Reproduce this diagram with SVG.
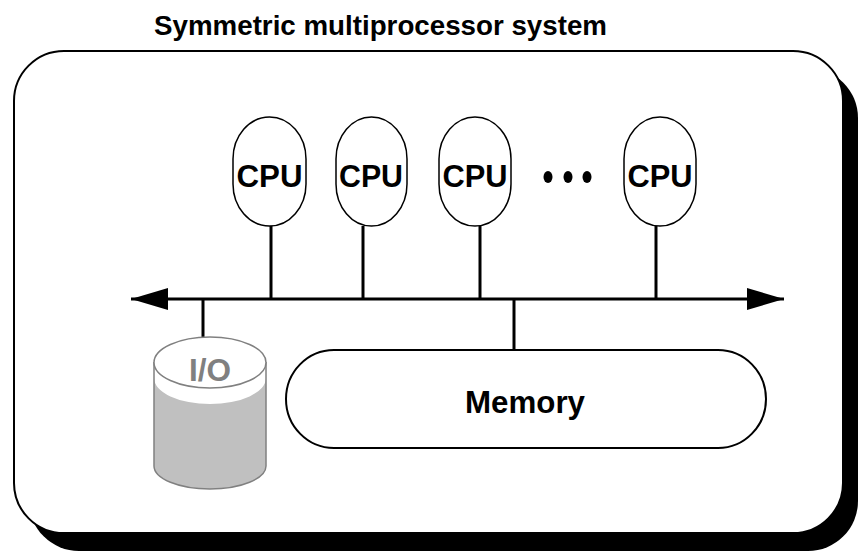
<svg xmlns="http://www.w3.org/2000/svg" width="859" height="553" viewBox="0 0 859 553">
<style>
text{font-family:"Liberation Sans",Arial,sans-serif;font-weight:bold;text-anchor:middle}
.title{font-size:28px;fill:#000}
.lbl{font-size:31.5px;fill:#000}
.cpu{fill:#fff;stroke:#000;stroke-width:1.5}
.wire{stroke:#000;stroke-width:3;fill:none}
</style>
<defs>
<marker id="ah" viewBox="0 0 37 22" refX="37" refY="11" markerWidth="37" markerHeight="22" markerUnits="userSpaceOnUse" orient="auto-start-reverse">
<path d="M0,0 L37,11 L0,22 Z" fill="#000"/>
</marker>
</defs>
<rect width="859" height="553" fill="#fff"/>
<text class="title" x="380.5" y="35" textLength="453" lengthAdjust="spacingAndGlyphs">Symmetric multiprocessor system</text>
<g id="frame">
<rect x="29" y="68" width="829" height="483" rx="50" ry="50" fill="#000"/>
<rect x="14" y="51" width="829" height="482" rx="50" ry="50" fill="#fff" stroke="#000" stroke-width="2"/>
</g>
<g id="connectors">
<line class="wire" x1="131" y1="299" x2="784" y2="299" marker-start="url(#ah)" marker-end="url(#ah)"/>
<line class="wire" x1="271" y1="226" x2="271" y2="299"/>
<line class="wire" x1="363" y1="226" x2="363" y2="299"/>
<line class="wire" x1="480" y1="226" x2="480" y2="299"/>
<line class="wire" x1="656" y1="226" x2="656" y2="299"/>
<line class="wire" x1="203" y1="299" x2="203" y2="337"/>
<line class="wire" x1="514" y1="299" x2="514" y2="350"/>
</g>
<g id="cpu1">
<rect class="cpu" x="233" y="117" width="73" height="109" rx="36.5" ry="42"/>
<text class="lbl" x="269.5" y="186.5" textLength="66" lengthAdjust="spacingAndGlyphs">CPU</text>
</g>
<g id="cpu2">
<rect class="cpu" x="336" y="117" width="71" height="109" rx="35.5" ry="42"/>
<text class="lbl" x="371" y="186.5" textLength="64" lengthAdjust="spacingAndGlyphs">CPU</text>
</g>
<g id="cpu3">
<rect class="cpu" x="439" y="117" width="72" height="109" rx="36" ry="42"/>
<text class="lbl" x="475" y="186.5" textLength="65" lengthAdjust="spacingAndGlyphs">CPU</text>
</g>
<g id="dots">
<ellipse cx="548" cy="177" rx="4.5" ry="6" fill="#000"/>
<ellipse cx="568" cy="177" rx="4.5" ry="6" fill="#000"/>
<ellipse cx="587" cy="177" rx="4.5" ry="6" fill="#000"/>
</g>
<g id="cpu4">
<rect class="cpu" x="624" y="117" width="72" height="109" rx="36" ry="42"/>
<text class="lbl" x="660" y="186.5" textLength="65" lengthAdjust="spacingAndGlyphs">CPU</text>
</g>
<g id="io">
<path d="M154,362 L154,466 A56,23 0 0 0 266,466 L266,362 Z" fill="#fff"/>
<path d="M154,378 A56,26 0 0 0 266,378 L266,466 A56,23 0 0 1 154,466 Z" fill="#c0c0c0"/>
<path d="M154,362 L154,466 A56,23 0 0 0 266,466 L266,362" fill="none" stroke="#808080" stroke-width="1.5"/>
<ellipse cx="210" cy="362.5" rx="56" ry="25.5" fill="#fff" stroke="#808080" stroke-width="1.5"/>
<text class="lbl" x="210" y="380.5" style="fill:#808080">I/O</text>
</g>
<g id="memory">
<rect x="286" y="350" width="480" height="98" rx="48" ry="49" fill="#fff" stroke="#000" stroke-width="2"/>
<text class="lbl" x="525" y="413" textLength="120" lengthAdjust="spacingAndGlyphs">Memory</text>
</g>
</svg>
